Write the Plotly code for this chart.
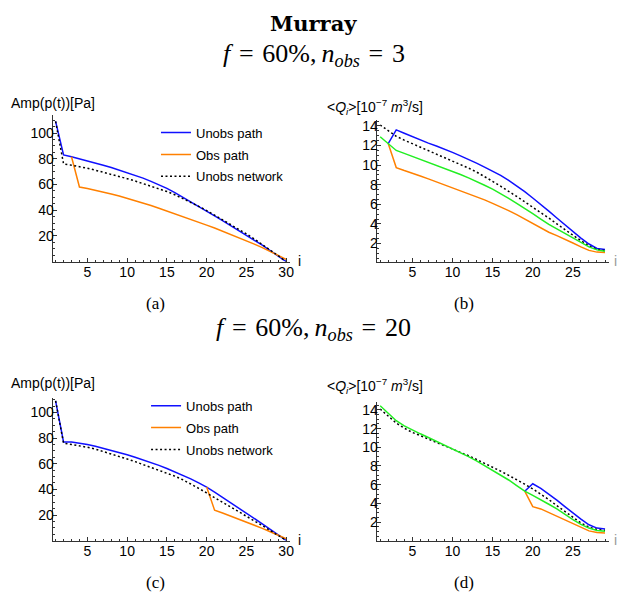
import plotly.graph_objects as go

# ---------------- data ----------------
idx_30 = list(range(1, 31))   # panels (a), (c)
idx_29 = list(range(1, 30))   # panels (b), (d)

# (a) pressure amplitude, n_obs = 3
unobs_path_a = [109, 83, 81.5, 80, 78.5, 76.8, 75, 73.2, 71.2, 69.2, 67.1, 64.9, 62.4, 59.8, 57,
                53.6, 50.1, 46.5, 42.9, 39.2, 35.5, 31.8, 28.1, 24.4, 20.7, 16.8, 12.8, 8.6, 4.3, 0]
obs_path_a = [None, None, 81.5, 58, 56.8, 55.5, 54.1, 52.6, 51, 49.3, 47.5, 45.6, 43.6, 41.5, 39.4,
              37.2, 35, 32.8, 30.6, 28.4, 26.1, 23.7, 21.3, 18.8, 16.3, 13.6, 10.9, 8, 5, 1.8]
unobs_network_a = [109, 76, 75, 74, 72.6, 71.1, 69.6, 68, 66.3, 64.5, 62.7, 60.8, 58.8, 56.7, 54.5,
                   52, 49.2, 46.2, 43, 39.7, 36.2, 32.7, 29.1, 25.4, 21.6, 17.6, 13.4, 9.1, 4.6, 0]

# (b) mean flow, n_obs = 3
unobs_path_b = [None, 12.2, 13.6, 13.25, 12.9, 12.55, 12.25, 11.95, 11.65, 11.3, 10.95, 10.6, 10.2,
                9.8, 9.4, 8.95, 8.45, 7.9, 7.3, 6.65, 6.0, 5.3, 4.6, 3.9, 3.2, 2.55, 1.95, 1.5, 1.38]
obs_path_b = [None, 12.2, 9.75, 9.45, 9.2, 8.9, 8.6, 8.3, 8.0, 7.7, 7.4, 7.1, 6.8, 6.45, 6.1, 5.75,
              5.35, 4.95, 4.5, 4.05, 3.6, 3.15, 2.8, 2.45, 2.05, 1.65, 1.3, 1.12, 1.08]
unobs_network_b = [14.1, 13.5, 12.95, 12.55, 12.2, 11.85, 11.5, 11.15, 10.8, 10.45, 10.1, 9.7, 9.3,
                   8.85, 8.35, 7.85, 7.35, 6.8, 6.25, 5.7, 5.2, 4.6, 4.0, 3.4, 2.85, 2.3, 1.75, 1.4, 1.28]
green_b = [12.9, 12.2, 11.5, 11.2, 10.9, 10.6, 10.3, 10.0, 9.7, 9.4, 9.05, 8.7, 8.35, 7.95, 7.55,
           7.1, 6.6, 6.1, 5.6, 5.05, 4.5, 3.95, 3.5, 3.05, 2.6, 2.1, 1.65, 1.35, 1.2]

# (c) pressure amplitude, n_obs = 20
unobs_path_c = [109, 77, 77, 76.2, 75, 73.6, 72.1, 70.5, 68.8, 67, 65.1, 63.1, 61, 58.7, 56.3,
                53.8, 51.1, 48.2, 45.1, 41.8, 37.8, 33.8, 29.7, 25.6, 21.5, 17.4, 13.2, 8.9, 4.6, 0.3]
obs_path_c = [None] * 19 + [41.8, 23.8, 21.6, 19.3, 16.9, 14.5, 12.1, 9.6, 7, 4.3, 1.5]
unobs_network_c = [109, 76, 75, 74, 72.8, 71.4, 69.6, 67.7, 65.7, 63.7, 61.6, 59.4, 57.2, 55, 52.8,
                   50.3, 47.5, 44.3, 40.8, 37.2, 33.6, 30, 26.5, 23, 19.4, 15.6, 11.8, 7.9, 4, 0.3]

# (d) mean flow, n_obs = 20
unobs_path_d = [None] * 18 + [5.3, 6.1, 5.6, 5.0, 4.35, 3.65, 2.95, 2.3, 1.7, 1.35, 1.25]
obs_path_d = [None] * 18 + [5.3, 3.65, 3.4, 3.0, 2.6, 2.2, 1.8, 1.4, 1.05, 0.88, 0.83]
unobs_network_d = [14.1, 13.3, 12.6, 12.05, 11.6, 11.25, 10.9, 10.55, 10.2, 9.85, 9.5, 9.1, 8.7,
                   8.3, 7.9, 7.45, 7.0, 6.55, 6.05, 5.55, 5.0, 4.4, 3.75, 3.1, 2.45, 1.9, 1.45, 1.2, 1.1]
green_d = [14.45, 13.65, 12.85, 12.3, 11.85, 11.45, 11.05, 10.65, 10.25, 9.85, 9.45, 9.0, 8.55,
           8.05, 7.55, 7.05, 6.5, 5.9, 5.3, 4.85, 4.4, 3.9, 3.4, 2.8, 2.25, 1.75, 1.35, 1.1, 1.0]

# tick labels
x_ticks_30 = [5, 10, 15, 20, 25, 30]
x_ticks_29 = [5, 10, 15, 20, 25]
y_ticks_amp = [20, 40, 60, 80, 100]
y_ticks_q = [2, 4, 6, 8, 10, 12, 14]

series_names = ["Unobs path", "Obs path", "Unobs network"]

# ---------------- figure ----------------
W, H = 620, 594
BLUE, ORANGE, GREEN, BLACK = "#1010ff", "#ff8000", "#22ee22", "#000000"
SANS = "Liberation Sans, Arial, sans-serif"
SERIF = "Liberation Serif, Times New Roman, serif"

fig = go.Figure()


def add(ax, x, y, color, name, dash=None, legend=None):
    fig.add_trace(go.Scatter(
        x=x, y=y, mode="lines", name=name,
        line=dict(color=color, width=1.5, dash=dash),
        xaxis="x" + ax, yaxis="y" + ax,
        showlegend=legend is not None, legend=legend or "legend",
        legendgroup=(legend or "") + name,
        hoverinfo="skip"))


DOT = "2px,2.5px"
# (a)
add("", idx_30, unobs_path_a, BLUE, series_names[0], legend="legend")
add("", idx_30, obs_path_a, ORANGE, series_names[1], legend="legend")
add("", idx_30, unobs_network_a, BLACK, series_names[2], dash=DOT, legend="legend")
# (b)
add("2", idx_29, unobs_path_b, BLUE, series_names[0])
add("2", idx_29, obs_path_b, ORANGE, series_names[1])
add("2", idx_29, unobs_network_b, BLACK, series_names[2], dash=DOT)
add("2", idx_29, green_b, GREEN, "Mean")
# (c)
add("3", idx_30, unobs_path_c, BLUE, series_names[0], legend="legend2")
add("3", idx_30, obs_path_c, ORANGE, series_names[1], legend="legend2")
add("3", idx_30, unobs_network_c, BLACK, series_names[2], dash=DOT, legend="legend2")
# (d)
add("4", idx_29, unobs_path_d, BLUE, series_names[0])
add("4", idx_29, obs_path_d, ORANGE, series_names[1])
add("4", idx_29, unobs_network_d, BLACK, series_names[2], dash=DOT)
add("4", idx_29, green_d, GREEN, "Mean")


def dx(l, r):
    return [l / W, r / W]


def dy(t, b):
    return [1 - b / H, 1 - t / H]


AXC = "#333333"
common = dict(showgrid=False, zeroline=False, showline=True, linecolor=AXC, linewidth=1,
              ticks="inside", ticklen=4, tickwidth=1, tickcolor=AXC,
              tickfont=dict(family=SANS, size=14, color="black"))


def xax(dom, rng, ticks, anchor):
    return dict(common, domain=dom, range=rng, tickvals=ticks, ticktext=[str(t) for t in ticks],
                anchor=anchor, ticklabelstandoff=-2,
                minor=dict(dtick=1, tick0=0, ticks="inside", ticklen=2, tickcolor=AXC))


def yax(dom, rng, ticks, anchor, mdt):
    return dict(common, domain=dom, range=rng, tickvals=ticks, ticktext=[str(t) for t in ticks],
                anchor=anchor, ticklabelstandoff=-5,
                minor=dict(dtick=mdt, tick0=0, ticks="inside", ticklen=2, tickcolor=AXC))


leg = dict(xanchor="left", yanchor="top", bgcolor="rgba(0,0,0,0)",
           font=dict(family=SANS, size=13, color="black"), tracegroupgap=2, itemwidth=30)

fig.update_layout(
    width=W, height=H, margin=dict(l=0, r=0, t=0, b=0),
    paper_bgcolor="white", plot_bgcolor="white",
    xaxis=xax(dx(53, 292), [0.63, 30.5], x_ticks_30, "y"),
    yaxis=yax(dy(113, 260.5), [0, 114.3], y_ticks_amp, "x", 5),
    xaxis2=xax(dx(379, 613), [0.55, 29.5], x_ticks_29, "y2"),
    yaxis2=yax(dy(118, 260.5), [0.15, 14.65], y_ticks_q, "x2", 0.5),
    xaxis3=xax(dx(53, 292), [0.63, 30.5], x_ticks_30, "y3"),
    yaxis3=yax(dy(397, 540.5), [0, 111.5], y_ticks_amp, "x3", 5),
    xaxis4=xax(dx(379, 613), [0.55, 29.5], x_ticks_29, "y4"),
    yaxis4=yax(dy(401.5, 540.5), [0, 14.84], y_ticks_q, "x4", 0.5),
    legend=dict(leg, x=157 / W, y=1 - 116 / H),
    legend2=dict(leg, x=147 / W, y=1 - 390 / H),
)

ann = []


def text(x, y, s, size, family, xanchor="center", color="black"):
    ann.append(dict(x=x / W, y=1 - y / H, xref="paper", yref="paper", text=s, showarrow=False,
                    xanchor=xanchor, yanchor="middle", font=dict(size=size, family=family, color=color)))


SP = "&#8196;"
title2 = "<i>f</i>" + SP + "=" + SP + "60%,&#8201;<i>n</i><sub><i>obs</i></sub>" + SP + "=" + SP
text(316, 22, "<b>Murray</b>", 21, "DejaVu Serif, serif")
text(316, 53, title2 + "3", 26, SERIF)
text(316, 328, title2 + "20", 26, SERIF)
text(157, 303, "(a)", 17, SERIF)
text(467, 303, "(b)", 17, SERIF)
text(157, 582, "(c)", 17, SERIF)
text(467, 582, "(d)", 17, SERIF)
amp_label = "Amp(p(t))[Pa]"
q_label = "&lt;<i>Q</i><sub><i>i</i></sub>&gt;[10<sup>−7</sup> <i>m</i><sup>3</sup>/s]"
text(9, 101, amp_label, 14, SANS, "left")
text(327, 105, q_label, 14, SANS, "left")
text(9, 382, amp_label, 14, SANS, "left")
text(327, 385, q_label, 14, SANS, "left")
text(301, 260, "i", 14, SANS)
text(301, 540, "i", 14, SANS)
text(616, 260, "i", 14, SANS, "left", "#999")
text(616, 540, "i", 14, SANS, "left", "#999")
fig.update_layout(annotations=ann)

fig.write_html("out.html", config={"displayModeBar": False},
               post_script="document.body.style.margin='0';")
